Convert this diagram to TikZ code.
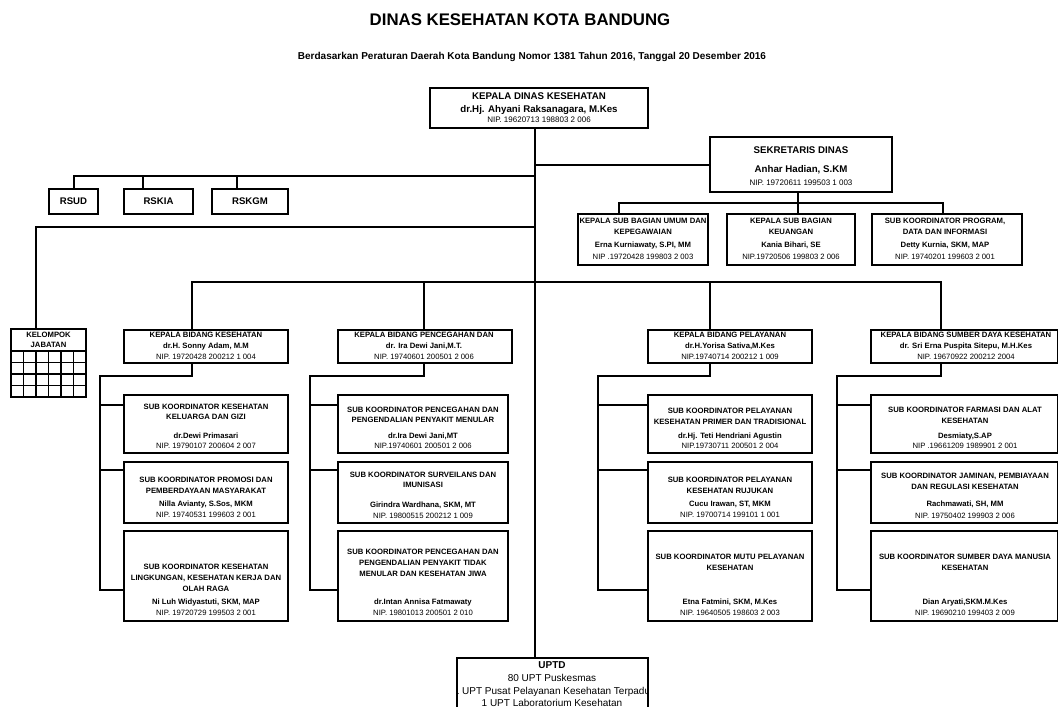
\documentclass[tikz,border=0pt]{standalone}
\usepackage{fontspec}
\setmainfont{Liberation Sans}
\pgfdeclarelayer{bg}
\pgfsetlayers{bg,main}
\newcommand\bx[5]{\node[boxst,minimum width={(#4)-(#2)},minimum height={(#5)-(#3)}] (#1) at ({((#2)+(#4))/2},{((#3)+(#5))/2}) {};}
\begin{document}
\begin{tikzpicture}[x=1pt,y=-1pt,
  boxst/.style={draw=black,line width=2.3pt,fill=white,inner sep=0pt,outer sep=0pt},
  conn/.style={draw=black,line width=2pt},
  gridln/.style={draw=black,line width=1.3pt},
  txt/.style={inner sep=0pt,text=black,anchor=base},
  ttl/.style={txt,font=\fontsize{16.8}{20}\selectfont\bfseries,yshift=-6pt},
  subt/.style={txt,font=\fontsize{10}{12}\selectfont\bfseries,yshift=-3.58pt},
  hb/.style={txt,font=\fontsize{9.7}{11}\selectfont\bfseries,yshift=-3.47pt},
  hn/.style={txt,font=\fontsize{8}{9}\selectfont,yshift=-2.86pt},
  sb/.style={txt,font=\fontsize{7.7}{9}\selectfont\bfseries,yshift=-2.76pt},
  sn/.style={txt,font=\fontsize{7.7}{9}\selectfont,yshift=-2.76pt},
  rs/.style={txt,font=\fontsize{9.6}{11}\selectfont\bfseries,yshift=-3.44pt},
  ub/.style={txt,font=\fontsize{10}{12}\selectfont\bfseries,yshift=-3.58pt},
  ut/.style={txt,font=\fontsize{10}{12}\selectfont,yshift=-3.58pt},
]
\useasboundingbox (0,0) rectangle (1058,707);

% ---------- titles
\node[ttl] (title) at (520,19) {DINAS KESEHATAN KOTA BANDUNG};
\node[subt] (subtitle) at (532,56) {Berdasarkan Peraturan Daerah Kota Bandung Nomor 1381 Tahun 2016, Tanggal 20 Desember 2016};

% ---------- boxes
\bx{head}{430}{88}{648}{128}
\bx{sek}{710}{137}{892}{192}
\bx{sb1}{578}{214}{708}{265}
\bx{sb2}{727}{214}{855}{265}
\bx{sb3}{872}{214}{1022}{265}
\bx{rsud}{49}{189}{98}{214}
\bx{rskia}{124}{189}{193}{214}
\bx{rskgm}{212}{189}{288}{214}
\bx{kel}{11}{329}{86}{397}
\bx{bd1}{124}{330}{288}{363}
\bx{bd2}{338}{330}{512}{363}
\bx{bd3}{648}{330}{812}{363}
\bx{bd4}{871}{330}{1058}{363}
\bx{s1a}{124}{395}{288}{453}
\bx{s1b}{124}{462}{288}{523}
\bx{s1c}{124}{531}{288}{621}
\bx{s2a}{338}{395}{508}{453}
\bx{s2b}{338}{462}{508}{523}
\bx{s2c}{338}{531}{508}{621}
\bx{s3a}{648}{395}{812}{453}
\bx{s3b}{648}{462}{812}{523}
\bx{s3c}{648}{531}{812}{621}
\bx{s4a}{871}{395}{1058}{453}
\bx{s4b}{871}{462}{1058}{523}
\bx{s4c}{871}{531}{1058}{621}
\bx{uptd}{457}{658}{648}{730}

% ---------- connectors
\coordinate (tx) at (535,0);
\coordinate (rsbus) at (535,176);
\coordinate (xr2) at (143,176);
\coordinate (xr3) at (237,176);
\coordinate (kbus) at (535,227);
\coordinate (xk) at (36,227);
\coordinate (xs1) at (619,203);
\coordinate (xs2) at (798,203);
\coordinate (xs3) at (943,203);
\coordinate (xb1) at (192,282);
\coordinate (xb2) at (424,282);
\coordinate (xb3) at (710,282);
\coordinate (xb4) at (941,282);
\coordinate (c1t) at (100,376);
\coordinate (c1a) at (100,405);
\coordinate (c1b) at (100,470);
\coordinate (c1c) at (100,590);
\coordinate (c2t) at (310,376);
\coordinate (c2a) at (310,405);
\coordinate (c2b) at (310,470);
\coordinate (c2c) at (310,590);
\coordinate (c3t) at (598,376);
\coordinate (c3a) at (598,405);
\coordinate (c3b) at (598,470);
\coordinate (c3c) at (598,590);
\coordinate (c4t) at (837,376);
\coordinate (c4a) at (837,405);
\coordinate (c4b) at (837,470);
\coordinate (c4c) at (837,590);
\begin{pgfonlayer}{bg}
\draw[conn] (head.south -| tx) -- (uptd.north -| tx);
\draw[conn] (tx |- sek.west) -- (sek.west);
\draw[conn] (sek.south -| xs2) -- (sb2.north -| xs2);
\draw[conn] (sb1.north -| xs1) |- (xs3) -- (sb3.north -| xs3);
\draw[conn] (rsud.north) |- (rsbus);
\draw[conn] (rskia.north -| xr2) -- (xr2);
\draw[conn] (rskgm.north -| xr3) -- (xr3);
\draw[conn] (kel.north -| xk) |- (kbus);
\draw[conn] (bd1.north -| xb1) |- (xb4) -- (bd4.north -| xb4);
\draw[conn] (bd2.north -| xb2) -- (xb2);
\draw[conn] (bd3.north -| xb3) -- (xb3);
\draw[conn] (bd1.south -| xb1) |- (c1t) -- (c1c) -- (c1c -| s1c.west);
\draw[conn] (c1a) -- (c1a -| s1a.west);
\draw[conn] (c1b) -- (c1b -| s1b.west);
\draw[conn] (bd2.south -| xb2) |- (c2t) -- (c2c) -- (c2c -| s2c.west);
\draw[conn] (c2a) -- (c2a -| s2a.west);
\draw[conn] (c2b) -- (c2b -| s2b.west);
\draw[conn] (bd3.south -| xb3) |- (c3t) -- (c3c) -- (c3c -| s3c.west);
\draw[conn] (c3a) -- (c3a -| s3a.west);
\draw[conn] (c3b) -- (c3b -| s3b.west);
\draw[conn] (bd4.south -| xb4) |- (c4t) -- (c4c) -- (c4c -| s4c.west);
\draw[conn] (c4a) -- (c4a -| s4a.west);
\draw[conn] (c4b) -- (c4b -| s4b.west);
\end{pgfonlayer}

% ---------- kelompok jabatan grid
\draw[gridln] (11,351) -- (86,351);
\foreach \gy in {362.5,374,385.5} {\draw[gridln] (11,\gy) -- (86,\gy);}
\foreach \gx in {23.5,36,48.5,61,73.5} {\draw[gridln] (\gx,351) -- (\gx,397);}
\node[sb] (kel1) at (48.5,335) {KELOMPOK};
\node[sb] (kel2) at (48.5,345) {JABATAN};

% ---------- head texts
\node[hb] (h1) at (539,96) {KEPALA DINAS KESEHATAN};
\node[hb] (h2) at (539,109) {dr.Hj. Ahyani Raksanagara, M.Kes};
\node[hn] (h3) at (539,120) {NIP. 19620713 198803 2 006};

\node[hb] (k1) at (801,150) {SEKRETARIS DINAS};
\node[hb] (k2) at (801,169) {Anhar Hadian, S.KM};
\node[hn] (k3) at (801,183) {NIP. 19720611 199503 1 003};

\node[sb] (sb1a) at (643,221) {KEPALA SUB BAGIAN UMUM DAN};
\node[sb] (sb1b) at (643,232) {KEPEGAWAIAN};
\node[sb] (sb1n) at (643,245) {Erna Kurniawaty, S.PI, MM};
\node[sn] (sb1p) at (643,257) {NIP .19720428 199803 2 003};

\node[sb] (sb2a) at (791,221) {KEPALA SUB BAGIAN};
\node[sb] (sb2b) at (791,232) {KEUANGAN};
\node[sb] (sb2n) at (791,245) {Kania Bihari, SE};
\node[sn] (sb2p) at (791,257) {NIP.19720506 199803 2 006};

\node[sb] (sb3a) at (945,221) {SUB KOORDINATOR PROGRAM,};
\node[sb] (sb3b) at (945,232) {DATA DAN INFORMASI};
\node[sb] (sb3n) at (945,245) {Detty Kurnia, SKM, MAP};
\node[sn] (sb3p) at (945,257) {NIP. 19740201 199603 2 001};

\node[rs] (rs1) at (rsud) {RSUD};
\node[rs] (rs2) at (rskia) {RSKIA};
\node[rs] (rs3) at (rskgm) {RSKGM};

% ---------- bidang
\node[sb] (bd1a) at (206,335) {KEPALA BIDANG KESEHATAN};
\node[sb] (bd1n) at (206,346) {dr.H. Sonny Adam, M.M};
\node[sn] (bd1p) at (206,357) {NIP. 19720428 200212 1 004};

\node[sb] (bd2a) at (424,335) {KEPALA BIDANG PENCEGAHAN DAN};
\node[sb] (bd2n) at (424,346) {dr. Ira Dewi Jani,M.T.};
\node[sn] (bd2p) at (424,357) {NIP. 19740601 200501 2 006};

\node[sb] (bd3a) at (730,335) {KEPALA BIDANG PELAYANAN};
\node[sb] (bd3n) at (730,346) {dr.H.Yorisa Sativa,M.Kes};
\node[sn] (bd3p) at (730,357) {NIP.19740714 200212 1 009};

\node[sb] (bd4a) at (966,335) {KEPALA BIDANG SUMBER DAYA KESEHATAN};
\node[sb] (bd4n) at (966,346) {dr. Sri Erna Puspita Sitepu, M.H.Kes};
\node[sn] (bd4p) at (966,357) {NIP. 19670922 200212 2004};

% ---------- column 1
\node[sb] (t1a1) at (206,407) {SUB KOORDINATOR KESEHATAN};
\node[sb] (t1a2) at (206,417) {KELUARGA DAN GIZI};
\node[sb] (t1an) at (206,436) {dr.Dewi Primasari};
\node[sn] (t1ap) at (206,446) {NIP. 19790107 200604 2 007};

\node[sb] (t1b1) at (206,480) {SUB KOORDINATOR PROMOSI DAN};
\node[sb] (t1b2) at (206,491) {PEMBERDAYAAN MASYARAKAT};
\node[sb] (t1bn) at (206,504) {Nilla Avianty, S.Sos, MKM};
\node[sn] (t1bp) at (206,515) {NIP. 19740531 199603 2 001};

\node[sb] (t1c1) at (206,567) {SUB KOORDINATOR KESEHATAN};
\node[sb] (t1c2) at (206,578) {LINGKUNGAN, KESEHATAN KERJA DAN};
\node[sb] (t1c3) at (206,589) {OLAH RAGA};
\node[sb] (t1cn) at (206,602) {Ni Luh Widyastuti, SKM, MAP};
\node[sn] (t1cp) at (206,613) {NIP. 19720729 199503 2 001};

% ---------- column 2
\node[sb] (t2a1) at (423,410) {SUB KOORDINATOR PENCEGAHAN DAN};
\node[sb] (t2a2) at (423,420) {PENGENDALIAN PENYAKIT MENULAR};
\node[sb] (t2an) at (423,436) {dr.Ira Dewi Jani,MT};
\node[sn] (t2ap) at (423,446) {NIP.19740601 200501 2 006};

\node[sb] (t2b1) at (423,475) {SUB KOORDINATOR SURVEILANS DAN};
\node[sb] (t2b2) at (423,485) {IMUNISASI};
\node[sb] (t2bn) at (423,505) {Girindra Wardhana, SKM, MT};
\node[sn] (t2bp) at (423,516) {NIP. 19800515 200212 1 009};

\node[sb] (t2c1) at (423,552) {SUB KOORDINATOR PENCEGAHAN DAN};
\node[sb] (t2c2) at (423,563) {PENGENDALIAN PENYAKIT TIDAK};
\node[sb] (t2c3) at (423,574) {MENULAR DAN KESEHATAN JIWA};
\node[sb] (t2cn) at (423,602) {dr.Intan Annisa Fatmawaty};
\node[sn] (t2cp) at (423,613) {NIP. 19801013 200501 2 010};

% ---------- column 3
\node[sb] (t3a1) at (730,411) {SUB KOORDINATOR PELAYANAN};
\node[sb] (t3a2) at (730,422) {KESEHATAN PRIMER DAN TRADISIONAL};
\node[sb] (t3an) at (730,436) {dr.Hj. Teti Hendriani Agustin};
\node[sn] (t3ap) at (730,446) {NIP.19730711 200501 2 004};

\node[sb] (t3b1) at (730,480) {SUB KOORDINATOR PELAYANAN};
\node[sb] (t3b2) at (730,491) {KESEHATAN RUJUKAN};
\node[sb] (t3bn) at (730,504) {Cucu Irawan, ST, MKM};
\node[sn] (t3bp) at (730,515) {NIP. 19700714 199101 1 001};

\node[sb] (t3c1) at (730,557) {SUB KOORDINATOR MUTU PELAYANAN};
\node[sb] (t3c2) at (730,568) {KESEHATAN};
\node[sb] (t3cn) at (730,602) {Etna Fatmini, SKM, M.Kes};
\node[sn] (t3cp) at (730,613) {NIP. 19640505 198603 2 003};

% ---------- column 4
\node[sb] (t4a1) at (965,410) {SUB KOORDINATOR FARMASI DAN ALAT};
\node[sb] (t4a2) at (965,421) {KESEHATAN};
\node[sb] (t4an) at (965,436) {Desmiaty,S.AP};
\node[sn] (t4ap) at (965,446) {NIP .19661209 1989901 2 001};

\node[sb] (t4b1) at (965,476) {SUB KOORDINATOR JAMINAN, PEMBIAYAAN};
\node[sb] (t4b2) at (965,487) {DAN REGULASI KESEHATAN};
\node[sb] (t4bn) at (965,504) {Rachmawati, SH, MM};
\node[sn] (t4bp) at (965,516) {NIP. 19750402 199903 2 006};

\node[sb] (t4c1) at (965,557) {SUB KOORDINATOR SUMBER DAYA MANUSIA};
\node[sb] (t4c2) at (965,568) {KESEHATAN};
\node[sb] (t4cn) at (965,602) {Dian Aryati,SKM.M.Kes};
\node[sn] (t4cp) at (965,613) {NIP. 19690210 199403 2 009};

% ---------- UPTD
\begin{scope}
\clip (uptd.north west) rectangle (uptd.south east);
\node[ub] (u1) at (552,665) {UPTD};
\node[ut] (u2) at (552,678) {80 UPT Puskesmas};
\node[ut] (u3) at (552,691) {1 UPT Pusat Pelayanan Kesehatan Terpadu};
\node[ut] (u4) at (552,703) {1 UPT Laboratorium Kesehatan};
\end{scope}
\end{tikzpicture}
\end{document}
